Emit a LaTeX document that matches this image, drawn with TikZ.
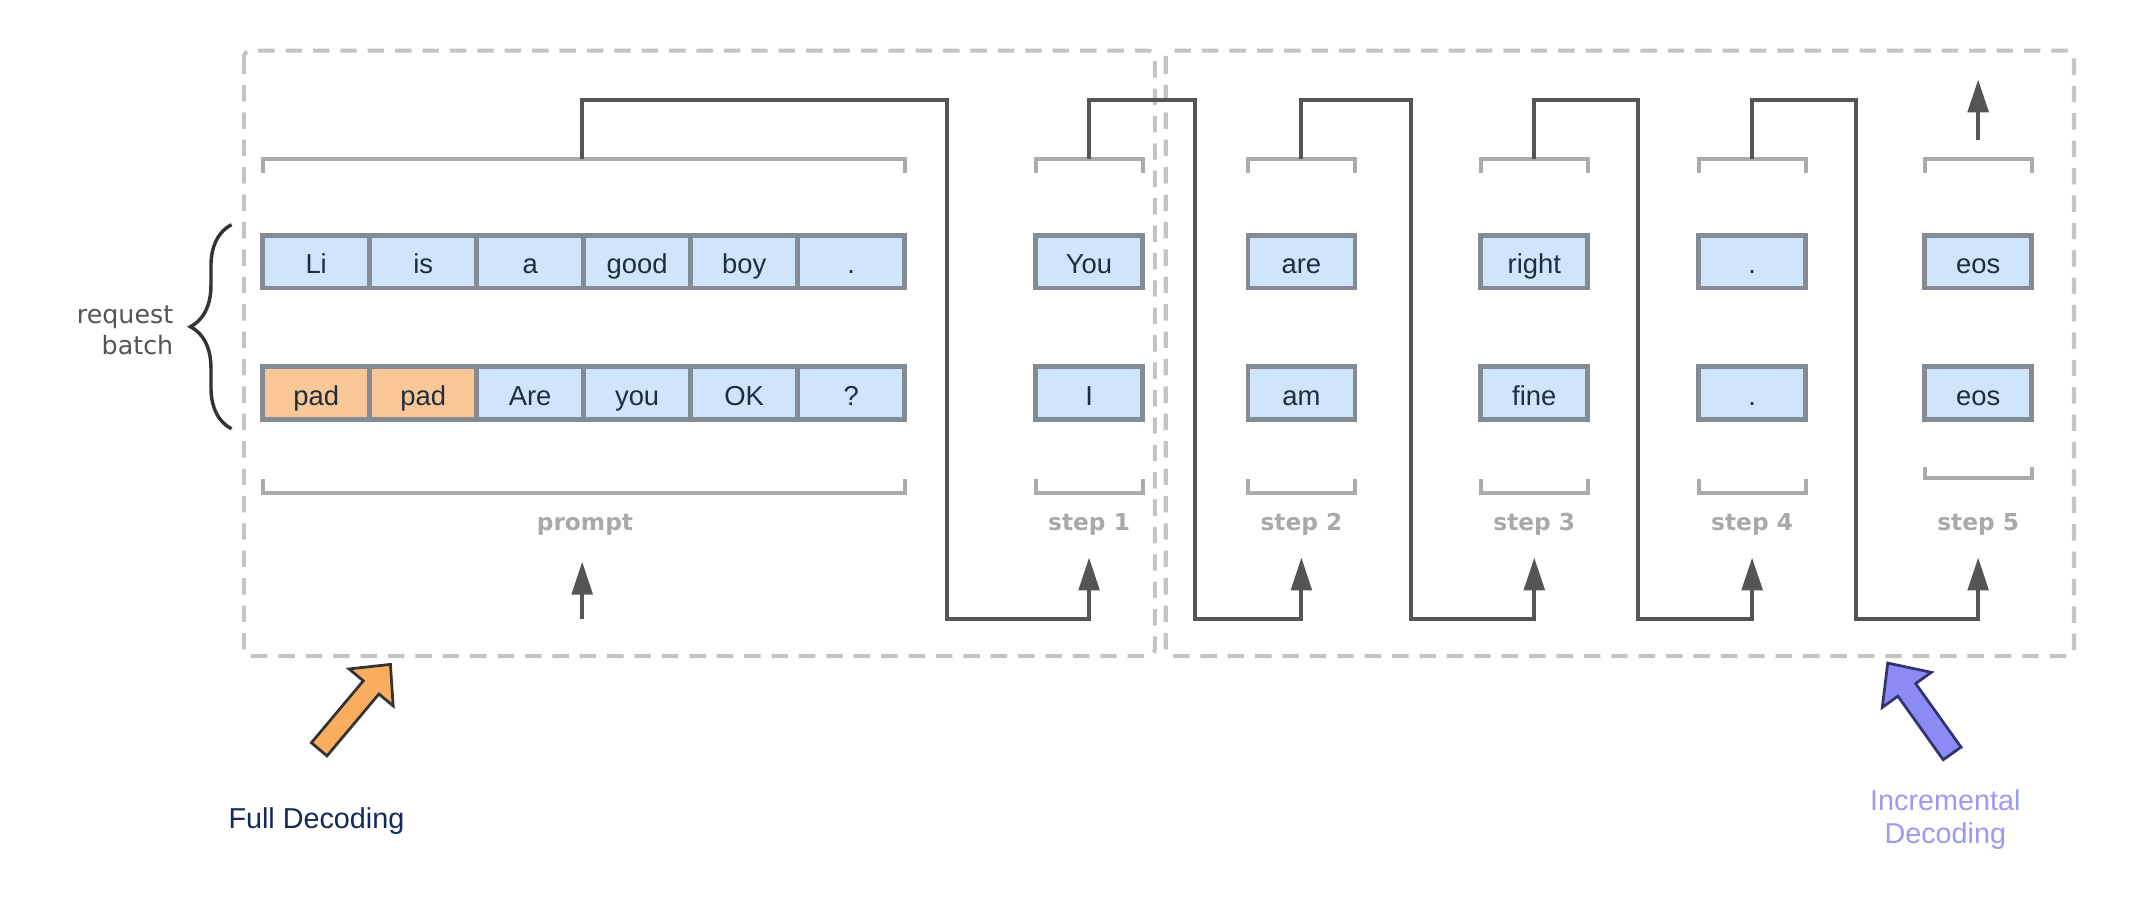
\documentclass[tikz,border=0pt]{standalone}
\usepackage{fontspec}
\setmainfont{Liberation Sans}
\newfontfamily\dejavu{DejaVu Sans}
\usepackage{xcolor}
\usetikzlibrary{positioning,arrows.meta,decorations.pathreplacing}
\definecolor{tokblue}{HTML}{CFE5FB}
\definecolor{padorange}{HTML}{FAC897}
\definecolor{cellgray}{HTML}{858B93}
\definecolor{tokink}{HTML}{1F2D3D}
\definecolor{brkgray}{HTML}{ABABAB}
\definecolor{conngray}{HTML}{555555}
\definecolor{lblgray}{HTML}{A9A9A9}
\definecolor{dashgray}{HTML}{C4C4C4}
\definecolor{fullink}{HTML}{12295A}
\definecolor{incink}{HTML}{9A9AF2}
\definecolor{fullfill}{HTML}{F8AE5E}
\definecolor{incfill}{HTML}{8B8BF3}

\begin{document}
\begin{tikzpicture}[
  x=1pt, y=-1pt,
  node distance=0pt,
  tok/.style={draw=cellgray, line width=3.5pt, fill=tokblue, minimum width=78.1pt, minimum height=38.5pt, inner sep=0pt, outer sep=0pt, text height=20pt, text depth=2pt, text=tokink, font=\fontsize{20}{24}\selectfont},
  pad/.style={tok, fill=padorange},
  brk/.style={draw=brkgray, line width=3pt},
  conn/.style={draw=conngray, line width=3pt, -{Triangle[length=24pt,width=15pt]}},
  steplbl/.style={text=lblgray, font=\dejavu\bfseries\fontsize{17}{20}\selectfont},
  dashbox/.style={draw=dashgray, line width=3pt, dash pattern=on 12pt off 8pt, rounded corners=5pt},
  declbl/.style={align=center, font=\fontsize{21}{24}\selectfont},
  blockarrow/.style={line width=2pt}
]
\useasboundingbox (0,0) rectangle (1568,661);

\draw[dashbox] (178,37) rectangle (843,479);
\draw[dashbox] (851,37) rectangle (1514,479);

\coordinate (topY) at (0,116);
\coordinate (botY) at (0,360);
\coordinate (botY5) at (0,349);
\coordinate (inY) at (0,407);
\coordinate (baseY) at (0,452);
\coordinate (lblY) at (0,383);
\coordinate (out0) at (425,116);

\node[tok] (li) at (230.8,191) {Li};
\node[tok, right=of li] (is) {is};
\node[tok, right=of is] (a) {a};
\node[tok, right=of a] (good) {good};
\node[tok, right=of good] (boy) {boy};
\node[tok, right=of boy] (pdot) {.};
\node[pad] (pad1) at (230.8,287) {pad};
\node[pad, right=of pad1] (pad2) {pad};
\node[tok, right=of pad2] (pAre) {Are};
\node[tok, right=of pAre] (pyou) {you};
\node[tok, right=of pyou] (pOK) {OK};
\node[tok, right=of pOK] (pqm) {?};

\node[tok] (you) at (795,191) {You};
\node[tok, below=57.5pt of you] (i) {I};
\node[tok] (are) at (950,191) {are};
\node[tok, below=57.5pt of are] (am) {am};
\node[tok] (right) at (1120,191) {right};
\node[tok, below=57.5pt of right] (fine) {fine};
\node[tok] (dota) at (1279,191) {.};
\node[tok, below=57.5pt of dota] (dotb) {.};
\node[tok] (eosa) at (1444,191) {eos};
\node[tok, below=57.5pt of eosa] (eosb) {eos};

\foreach \l/\r in {li/pdot, you/you, are/are, right/right, dota/dota, eosa/eosa}
  \draw[brk] (\l.west |- topY) ++(0,10) -- ++(0,-10) -- (\r.east |- topY) -- ++(0,10);
\foreach \l/\r in {pad1/pqm, i/i, am/am, fine/fine, dotb/dotb}
  \draw[brk] (\l.west |- botY) ++(0,-10) -- ++(0,10) -- (\r.east |- botY) -- ++(0,-10);
\draw[brk] (eosb.west |- botY5) ++(0,-8) -- ++(0,8) -- (eosb.east |- botY5) -- ++(0,-8);

\node[steplbl] (lbl0) at (427,383) {prompt};
\foreach \n/\c in {1/you,2/are,3/right,4/dota,5/eosa}
  \node[steplbl] (lbl\n) at (\c.center |- lblY) {step \n};

\foreach \s/\d/\t in {out0/691/you, you/872/are, are/1030/right, right/1196/dota, dota/1355/eosa}
  \draw[conn] (\s.center |- topY) -- ++(0,-43) -| (\d,452) -| (\t.center |- inY);
\draw[conn] (out0 |- baseY) -- ++(0,-42);
\draw[conn] (eosa.center |- topY) ++(0,-14) -- ++(0,-44);

\draw[draw=black!80, line width=2.5pt, decorate, decoration={brace, amplitude=30pt}] (169,313) -- (169,164);
\node[anchor=east, align=right, text=black!67, font=\dejavu\fontsize{18.5}{23}\selectfont] (req) at (130,241) {request\\batch};

\draw[blockarrow, draw=black!80, fill=fullfill] (285,485) -- (287.0,515.3) -- (276.6,506.6) -- (238.7,551.8) -- (227.3,542.2) -- (265.2,497.0) -- (254.8,488.3) -- cycle;
\draw[blockarrow, draw=black!70!blue!80, fill=incfill] (1378,484) -- (1409.8,490.8) -- (1398.4,499.0) -- (1431.5,545.4) -- (1418.5,554.6) -- (1385.4,508.2) -- (1374.0,516.4) -- cycle;

\node[declbl, text=fullink] (fulldec) at (231,599) {Full Decoding};
\node[declbl, text=incink] (incdec) at (1420,598) {Incremental\\Decoding};
\end{tikzpicture}
\end{document}
